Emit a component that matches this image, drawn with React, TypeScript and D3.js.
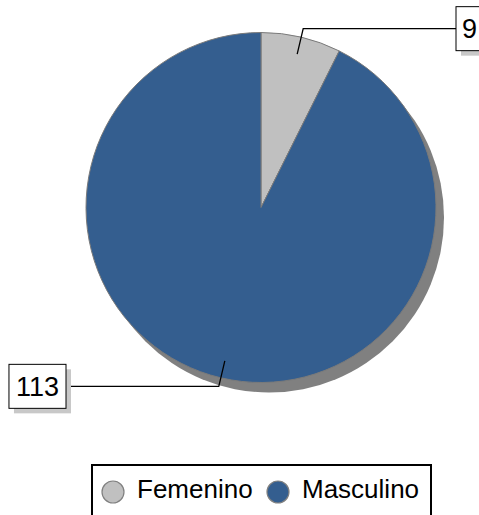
import React from "react";
import * as d3 from "d3";

const categories = ["Femenino", "Masculino"];
const values = [9, 113];
const colors = ["#c0c0c0", "#345e8f"];

const W = 479;
const H = 515;
const cx = 261;
const cy = 207.5;
const R = 175;
const FONT = "'Liberation Sans', Arial, sans-serif";

export default function App() {
  const pie = d3.pie<number>().sort(null).value((d) => d);
  const arcs = pie(values);
  const arcGen = d3.arc<d3.PieArcDatum<number>>().innerRadius(0).outerRadius(R);
  const labelFont = 27;

  return (
    <svg
      width={W}
      height={H}
      style={{ position: "absolute", left: 0, top: 0, background: "#fff" }}
      fontFamily={FONT}
    >
      {/* shadow */}
      <circle cx={cx + 8} cy={cy + 10} r={R} fill="#808080" />
      <g transform={`translate(${cx},${cy})`}>
        {arcs.map((a, i) => (
          <path key={i} d={arcGen(a) || ""} fill={colors[i]} stroke="#7a7a7a" strokeWidth={1} />
        ))}
      </g>
      {arcs.map((a, i) => {
        const mid = (a.startAngle + a.endAngle) / 2;
        const r1 = R * 0.9;
        const r2 = R * 1.05;
        const x1 = cx + r1 * Math.sin(mid);
        const y1 = cy - r1 * Math.cos(mid);
        const x2 = cx + r2 * Math.sin(mid);
        const y2 = cy - r2 * Math.cos(mid);
        const right = Math.sin(mid) >= 0;
        const bx = right ? cx + 195 : cx - 195;
        const txt = String(values[i]);
        const tw = txt.length * 0.556 * labelFont;
        const bw = tw + 12;
        const bh = 44;
        const rx = right ? bx : bx - bw;
        const ry = y2 - bh / 2;
        return (
          <g key={"l" + i}>
            <polyline
              points={`${x1},${y1} ${x2},${y2} ${bx},${y2}`}
              fill="none"
              stroke="#000"
              strokeWidth={1.3}
            />
            <rect x={rx + 5} y={ry + 5} width={bw} height={bh} fill="#c8c8c8" />
            <rect x={rx} y={ry} width={bw} height={bh} fill="#fff" stroke="#000" strokeWidth={1} />
            <text
              x={rx + bw / 2}
              y={ry + bh / 2 + labelFont * 0.36}
              textAnchor="middle"
              fontSize={labelFont}
              fill="#000"
            >
              {txt}
            </text>
          </g>
        );
      })}
      {/* legend */}
      <rect x={92} y={465} width={339} height={70} fill="#fff" stroke="#000" strokeWidth={2} />
      {categories.map((c, i) => {
        const lx = i === 0 ? 113 : 278;
        return (
          <g key={"lg" + i}>
            <circle cx={lx} cy={492} r={11} fill={colors[i]} stroke="#808080" strokeWidth={1.2} />
            <text x={lx + 24} y={497.5} fontSize={26} fill="#000">
              {c}
            </text>
          </g>
        );
      })}
    </svg>
  );
}
